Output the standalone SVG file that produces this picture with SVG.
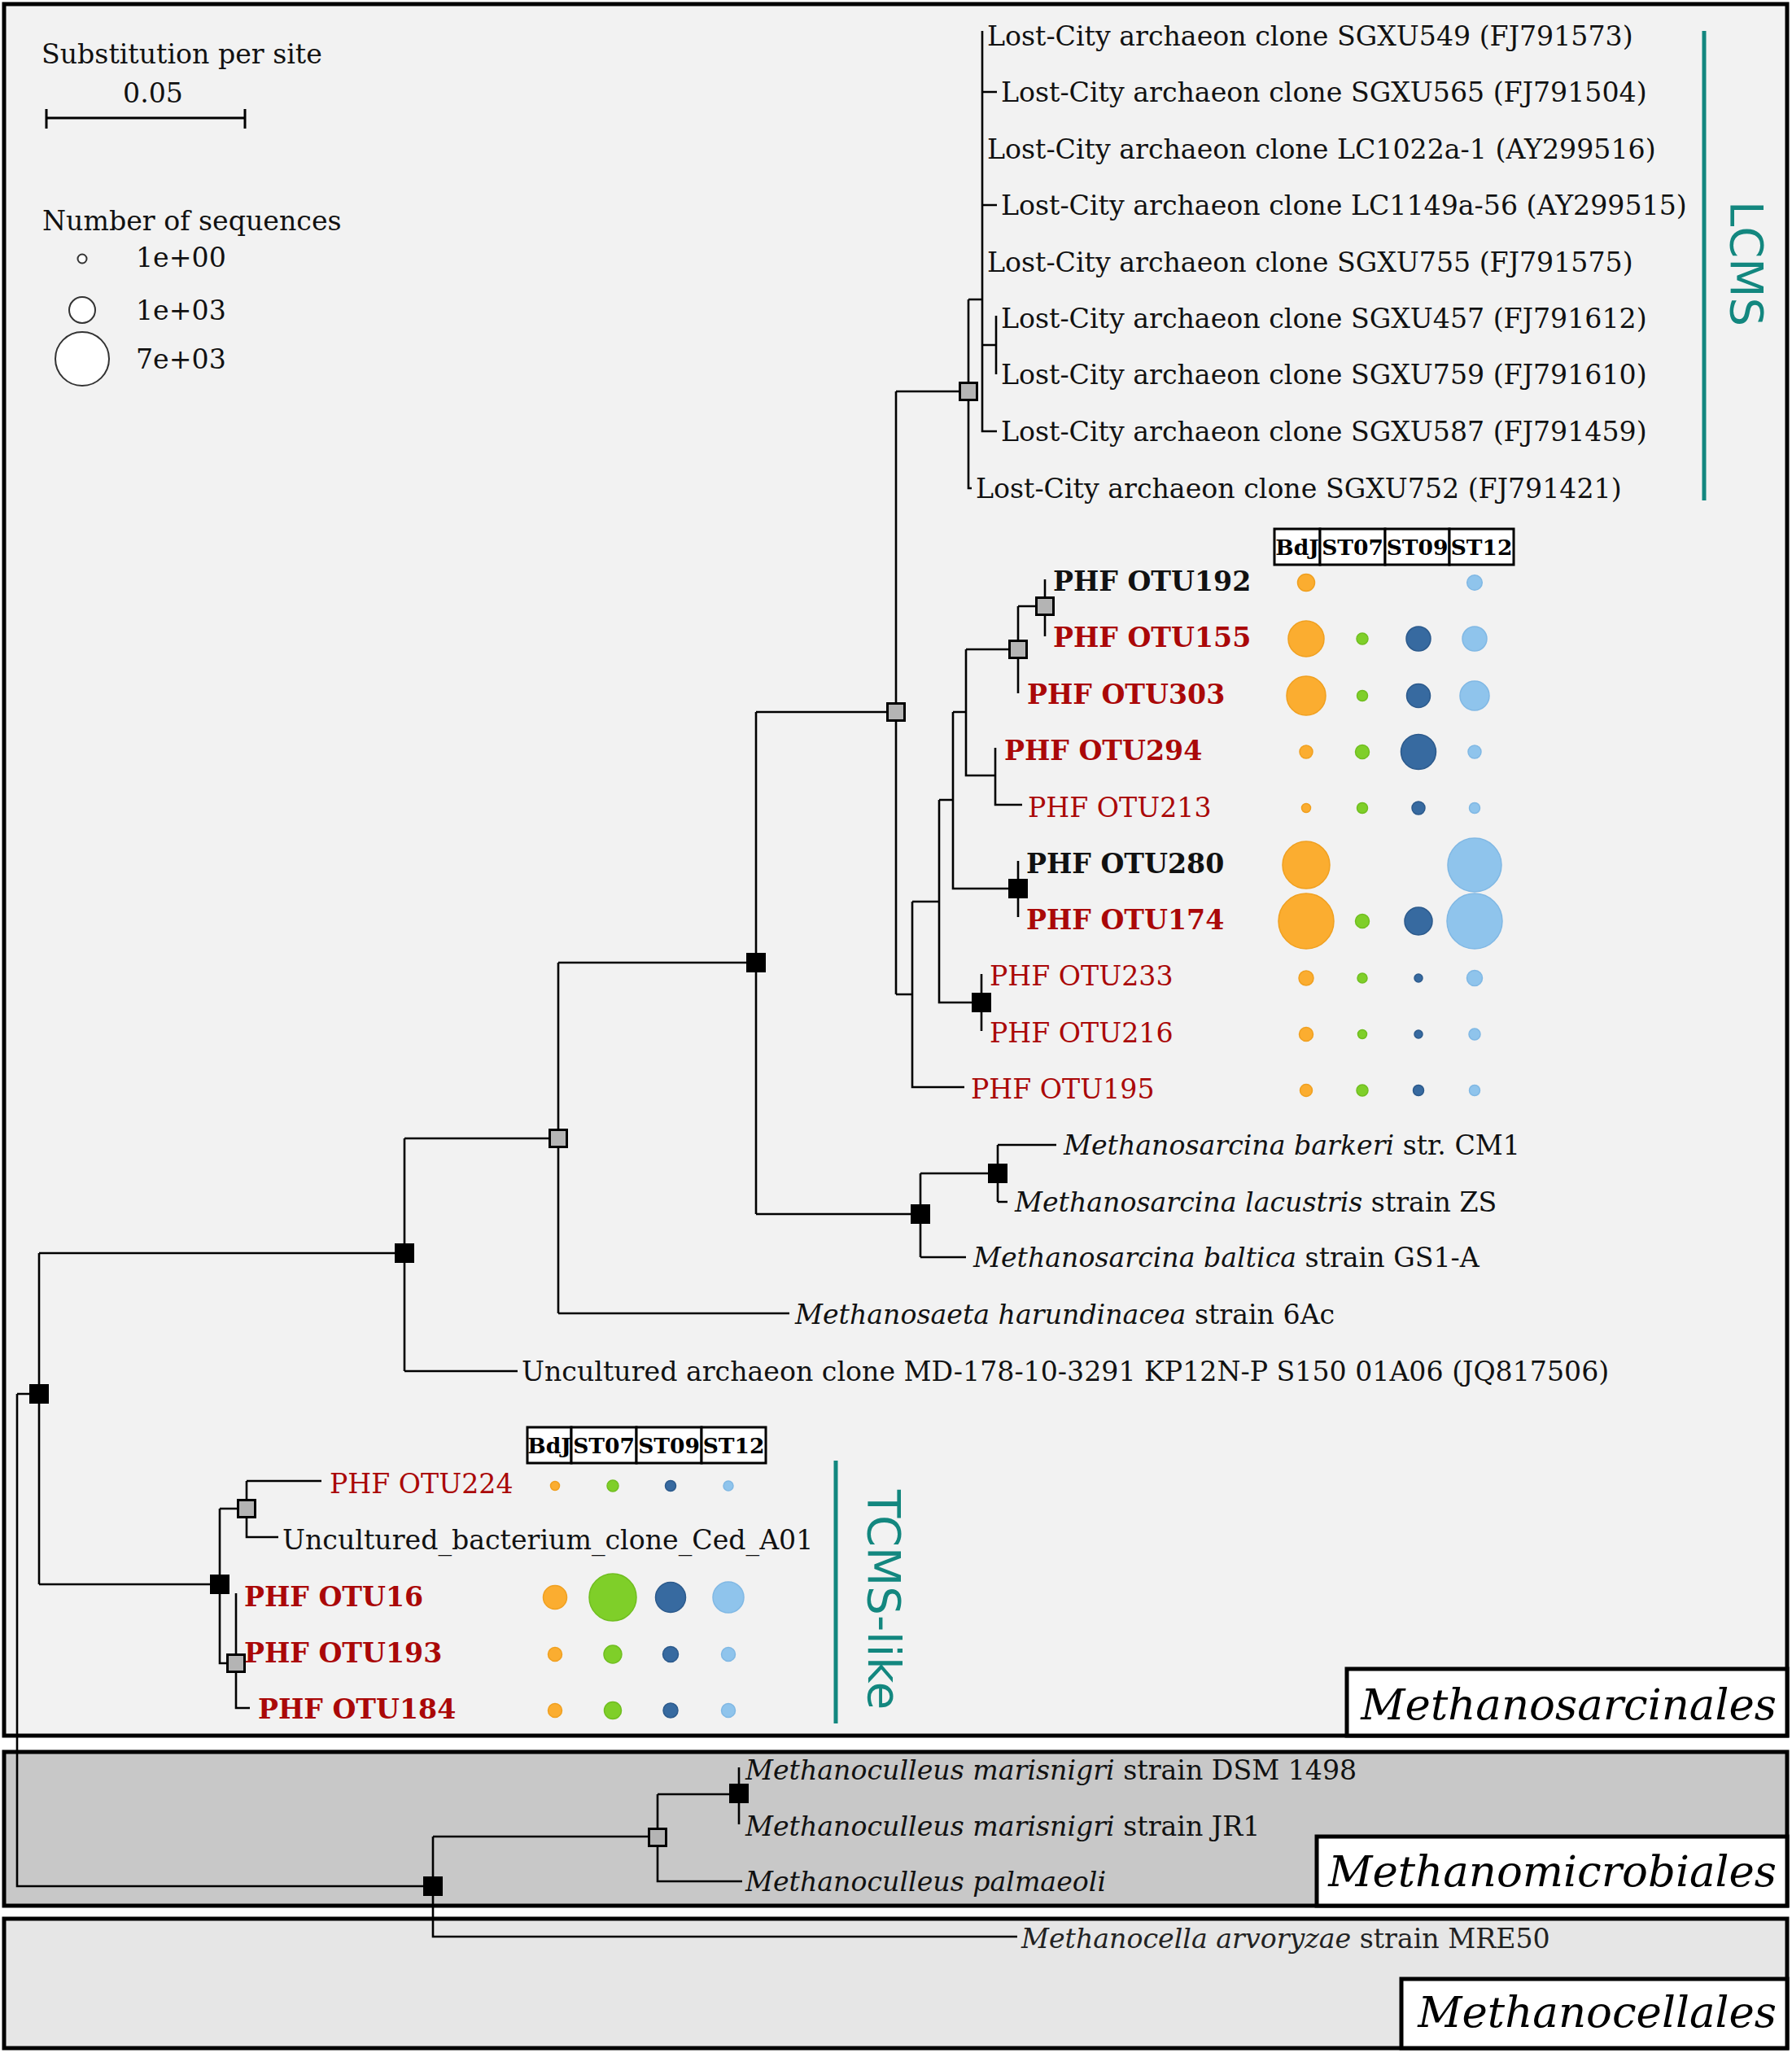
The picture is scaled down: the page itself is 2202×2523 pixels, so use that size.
<svg xmlns="http://www.w3.org/2000/svg" width="2202" height="2523" viewBox="0 0 2202 2523">
<style>
text{font-family:"DejaVu Serif","Liberation Serif",serif;font-size:33.2px;fill:#111}
.b{font-weight:bold}
.r{fill:#aa0808}
.i{font-style:italic}
.hd{font-size:26.5px;font-weight:bold;text-anchor:middle;fill:#000}
.lab{font-size:53px;font-style:italic;text-anchor:end;fill:#000}
.clade{font-family:"DejaVu Sans","Liberation Sans",sans-serif;font-size:56px;fill:#13877f}
.tree path{fill:none;stroke:#000;stroke-width:2.6}
.nb{fill:#000;stroke:#000;stroke-width:3}
.ng{fill:#b4b4b4;stroke:#000;stroke-width:3}
.o{fill:#fbad30;stroke:#f0a020;stroke-width:1.5}
.g{fill:#7fcf29;stroke:#70be20;stroke-width:1.5}
.d{fill:#376aa0;stroke:#2c5a8c;stroke-width:1.5}
.l{fill:#8fc4ec;stroke:#80b8e4;stroke-width:1.5}
.leg{fill:#fff;stroke:#333;stroke-width:2}
.cell{fill:#fff;stroke:#000;stroke-width:3}
</style>
<rect width="2202" height="2523" fill="#fff"/>
<g id="boxes">
<rect x="5" y="5" width="2191" height="2128" fill="#f2f2f2" stroke="#000" stroke-width="5"/>
<rect x="5" y="2153" width="2191" height="189" fill="#c8c8c8" stroke="#000" stroke-width="5"/>
<rect x="5" y="2358" width="2191" height="159" fill="#e6e6e6" stroke="#000" stroke-width="5"/>
<rect x="1655" y="2051" width="541" height="82" fill="#fff" stroke="#000" stroke-width="5"/>
<rect x="1618" y="2257" width="578" height="85" fill="#fff" stroke="#000" stroke-width="5"/>
<rect x="1722" y="2432" width="474" height="85" fill="#fff" stroke="#000" stroke-width="5"/>
<text class="lab" x="2183" y="2113">Methanosarcinales</text>
<text class="lab" x="2183" y="2318">Methanomicrobiales</text>
<text class="lab" x="2183" y="2491">Methanocellales</text>
</g>
<g id="legend">
<text x="51" y="78">Substitution per site</text>
<text x="188" y="126" text-anchor="middle">0.05</text>
<path d="M57,145 H301 M57,134 V158 M301,134 V158" stroke="#000" stroke-width="3" fill="none"/>
<text x="52" y="283">Number of sequences</text>
<circle class="leg" cx="101" cy="318" r="5.5"/>
<circle class="leg" cx="101" cy="381" r="16"/>
<circle class="leg" cx="101" cy="441" r="33"/>
<text x="167" y="328">1e+00</text>
<text x="167" y="393">1e+03</text>
<text x="167" y="453">7e+03</text>
</g>
<g id="connectors" class="tree">
<path d="M21,1713 H48 M21,1713 V2318 H532"/>
<path d="M48,1540 V1947 M48,1540 H497 M48,1947 H270"/>
<path d="M497,1399 V1685 M497,1399 H686 M497,1685 H636"/>
<path d="M686,1183 V1614 M686,1183 H929 M686,1614 H970"/>
<path d="M929,875 V1492 M929,875 H1101 M929,1492 H1131"/>
<path d="M1131,1442 V1545 M1131,1442 H1226 M1131,1545 H1187"/>
<path d="M1226,1407 V1477 M1226,1407 H1298 M1226,1477 H1238"/>
<path d="M1101,481 V1222 M1101,481 H1190 M1101,1222 H1121"/>
<path d="M1190,368 V600 H1194 M1190,368 H1207"/>
<path d="M1207,38 V530 H1225 M1207,113 H1225 M1207,252 H1225 M1207,424 H1224"/>
<path d="M1224,388 V460"/>
<path d="M1121,1108 V1336 H1185 M1121,1108 H1154"/>
<path d="M1154,983 V1232 H1206 M1154,983 H1171"/>
<path d="M1171,875 V1092 H1251 M1171,875 H1187"/>
<path d="M1187,798 V953 H1223 M1187,798 H1251"/>
<path d="M1223,919 V989 H1256"/>
<path d="M1251,745 V852 M1251,745 H1284"/>
<path d="M1284,712 V782"/>
<path d="M1251,1058 V1127"/>
<path d="M1206,1197 V1267"/>
<path d="M270,1854 V2044 H290 M270,1854 H303"/>
<path d="M303,1820 V1889 H342 M303,1820 H395"/>
<path d="M290,1958 V2099 H307"/>
<path d="M532,2257 V2380 H1250 M532,2257 H808"/>
<path d="M808,2205 V2312 H912 M808,2205 H908"/>
<path d="M908,2172 V2242"/>
</g>
<g id="nodes">
<rect class="nb" x="37.5" y="1702.5" width="21" height="21"/>
<rect class="nb" x="486.5" y="1529.5" width="21" height="21"/>
<rect class="ng" x="675.5" y="1388.5" width="21" height="21"/>
<rect class="nb" x="918.5" y="1172.5" width="21" height="21"/>
<rect class="ng" x="1090.5" y="864.5" width="21" height="21"/>
<rect class="nb" x="1120.5" y="1481.5" width="21" height="21"/>
<rect class="nb" x="1215.5" y="1431.5" width="21" height="21"/>
<rect class="ng" x="1179.5" y="470.5" width="21" height="21"/>
<rect class="ng" x="1240.5" y="787.5" width="21" height="21"/>
<rect class="ng" x="1273.5" y="734.5" width="21" height="21"/>
<rect class="nb" x="1240.5" y="1081.5" width="21" height="21"/>
<rect class="nb" x="1195.5" y="1221.5" width="21" height="21"/>
<rect class="nb" x="259.5" y="1936.5" width="21" height="21"/>
<rect class="ng" x="292.5" y="1843.5" width="21" height="21"/>
<rect class="ng" x="279.5" y="2033.5" width="21" height="21"/>
<rect class="nb" x="521.5" y="2307.5" width="21" height="21"/>
<rect class="ng" x="797.5" y="2247.5" width="21" height="21"/>
<rect class="nb" x="897.5" y="2193.5" width="21" height="21"/>
</g>
<g id="leaves">
<text x="1213" y="56">Lost-City archaeon clone SGXU549 (FJ791573)</text>
<text x="1230" y="125">Lost-City archaeon clone SGXU565 (FJ791504)</text>
<text x="1213" y="195">Lost-City archaeon clone LC1022a-1 (AY299516)</text>
<text x="1230" y="264">Lost-City archaeon clone LC1149a-56 (AY299515)</text>
<text x="1213" y="334">Lost-City archaeon clone SGXU755 (FJ791575)</text>
<text x="1230" y="403">Lost-City archaeon clone SGXU457 (FJ791612)</text>
<text x="1230" y="472">Lost-City archaeon clone SGXU759 (FJ791610)</text>
<text x="1230" y="542">Lost-City archaeon clone SGXU587 (FJ791459)</text>
<text x="1199" y="612">Lost-City archaeon clone SGXU752 (FJ791421)</text>
<text class="b" x="1294" y="726">PHF OTU192</text>
<text class="b r" x="1294" y="795">PHF OTU155</text>
<text class="b r" x="1262" y="865">PHF OTU303</text>
<text class="b r" x="1234" y="934">PHF OTU294</text>
<text class="r" x="1263" y="1004">PHF OTU213</text>
<text class="b" x="1261" y="1073">PHF OTU280</text>
<text class="b r" x="1261" y="1142">PHF OTU174</text>
<text class="r" x="1216" y="1211">PHF OTU233</text>
<text class="r" x="1216" y="1281">PHF OTU216</text>
<text class="r" x="1193" y="1350">PHF OTU195</text>
<text x="1307" y="1419"><tspan class="i">Methanosarcina barkeri</tspan> str. CM1</text>
<text x="1247" y="1489"><tspan class="i">Methanosarcina lacustris</tspan> strain ZS</text>
<text x="1196" y="1557"><tspan class="i">Methanosarcina baltica</tspan> strain GS1-A</text>
<text x="977" y="1627"><tspan class="i">Methanosaeta harundinacea</tspan> strain 6Ac</text>
<text x="641" y="1697">Uncultured archaeon clone MD-178-10-3291 KP12N-P S150 01A06 (JQ817506)</text>
<text class="r" x="405" y="1835">PHF OTU224</text>
<text x="347" y="1904">Uncultured_bacterium_clone_Ced_A01</text>
<text class="b r" x="300" y="1974">PHF OTU16</text>
<text class="b r" x="300" y="2043">PHF OTU193</text>
<text class="b r" x="317" y="2112">PHF OTU184</text>
<text x="916" y="2187"><tspan class="i">Methanoculleus marisnigri</tspan> strain DSM 1498</text>
<text x="916" y="2256"><tspan class="i">Methanoculleus marisnigri</tspan> strain JR1</text>
<text x="916" y="2324" class="i">Methanoculleus palmaeoli</text>
<text x="1255" y="2394" style="fill:#222"><tspan class="i">Methanocella arvoryzae</tspan> strain MRE50</text>
</g>
<g id="clades">
<path d="M2094,38 V615 M1027,1795 V2118" stroke="#13877f" stroke-width="5" fill="none"/>
<text class="clade" transform="translate(2127,247) rotate(90)">LCMS</text>
<text class="clade" transform="translate(1067,1831) rotate(90)">TCMS-like</text>
</g>
<g id="table-lcms">
<rect class="cell" x="1566" y="650" width="56" height="44"/>
<rect class="cell" x="1622" y="650" width="80" height="44"/>
<rect class="cell" x="1702" y="650" width="79" height="44"/>
<rect class="cell" x="1781" y="650" width="79" height="44"/>
<text class="hd" x="1594" y="682">BdJ</text>
<text class="hd" x="1662" y="682">ST07</text>
<text class="hd" x="1741.5" y="682">ST09</text>
<text class="hd" x="1820.5" y="682">ST12</text>
</g>
<g id="bubbles-lcms">
<circle class="o" cx="1605" cy="716" r="10.5"/><circle class="l" cx="1812" cy="716" r="9.3"/>
<circle class="o" cx="1605" cy="785" r="22"/><circle class="g" cx="1674" cy="785" r="7"/><circle class="d" cx="1743" cy="785" r="15"/><circle class="l" cx="1812" cy="785" r="15"/>
<circle class="o" cx="1605" cy="855" r="24"/><circle class="g" cx="1674" cy="855" r="6.5"/><circle class="d" cx="1743" cy="855" r="14.5"/><circle class="l" cx="1812" cy="855" r="18"/>
<circle class="o" cx="1605" cy="924" r="8"/><circle class="g" cx="1674" cy="924" r="8.5"/><circle class="d" cx="1743" cy="924" r="21.5"/><circle class="l" cx="1812" cy="924" r="8"/>
<circle class="o" cx="1605" cy="993" r="5.5"/><circle class="g" cx="1674" cy="993" r="6.5"/><circle class="d" cx="1743" cy="993" r="8"/><circle class="l" cx="1812" cy="993" r="6.5"/>
<circle class="o" cx="1605" cy="1063" r="29"/><circle class="l" cx="1812" cy="1063" r="33"/>
<circle class="o" cx="1605" cy="1132" r="34"/><circle class="g" cx="1674" cy="1132" r="8.5"/><circle class="d" cx="1743" cy="1132" r="17"/><circle class="l" cx="1812" cy="1132" r="34"/>
<circle class="o" cx="1605" cy="1202" r="9"/><circle class="g" cx="1674" cy="1202" r="6"/><circle class="d" cx="1743" cy="1202" r="5"/><circle class="l" cx="1812" cy="1202" r="9.5"/>
<circle class="o" cx="1605" cy="1271" r="8.5"/><circle class="g" cx="1674" cy="1271" r="5.5"/><circle class="d" cx="1743" cy="1271" r="5"/><circle class="l" cx="1812" cy="1271" r="7"/>
<circle class="o" cx="1605" cy="1340" r="7.5"/><circle class="g" cx="1674" cy="1340" r="7"/><circle class="d" cx="1743" cy="1340" r="6.5"/><circle class="l" cx="1812" cy="1340" r="6.5"/>
</g>
<g id="table-tcms">
<rect class="cell" x="648" y="1754" width="54" height="44"/>
<rect class="cell" x="702" y="1754" width="80" height="44"/>
<rect class="cell" x="782" y="1754" width="80" height="44"/>
<rect class="cell" x="862" y="1754" width="79" height="44"/>
<text class="hd" x="675" y="1786">BdJ</text>
<text class="hd" x="742" y="1786">ST07</text>
<text class="hd" x="822" y="1786">ST09</text>
<text class="hd" x="901.5" y="1786">ST12</text>
</g>
<g id="bubbles-tcms">
<circle class="o" cx="682" cy="1826" r="5.5"/><circle class="g" cx="753" cy="1826" r="7"/><circle class="d" cx="824" cy="1826" r="6.5"/><circle class="l" cx="895" cy="1826" r="6"/>
<circle class="o" cx="682" cy="1963" r="14.5"/><circle class="g" cx="753" cy="1963" r="29"/><circle class="d" cx="824" cy="1963" r="18.5"/><circle class="l" cx="895" cy="1963" r="19"/>
<circle class="o" cx="682" cy="2033" r="8.5"/><circle class="g" cx="753" cy="2033" r="11"/><circle class="d" cx="824" cy="2033" r="9.5"/><circle class="l" cx="895" cy="2033" r="8.5"/>
<circle class="o" cx="682" cy="2102" r="8.5"/><circle class="g" cx="753" cy="2102" r="10.5"/><circle class="d" cx="824" cy="2102" r="9"/><circle class="l" cx="895" cy="2102" r="8.5"/>
</g>
</svg>
